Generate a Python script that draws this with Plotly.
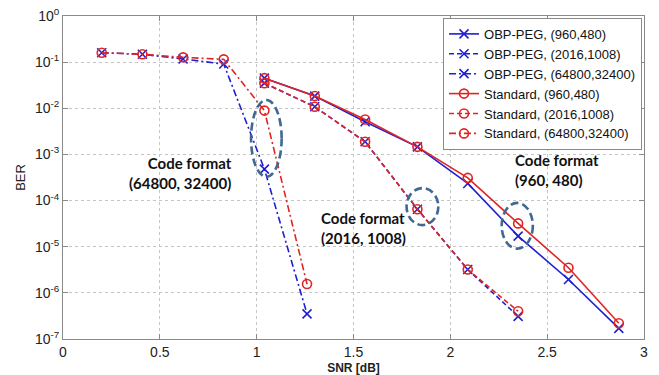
import plotly.graph_objects as go

# ---- data ----
snr_960 = [1.04, 1.30, 1.56, 1.83, 2.09, 2.35, 2.61, 2.87]
obp_960 = [0.045, 0.0184, 0.0051, 0.00146, 2.35e-4, 1.7e-5, 1.95e-6, 1.7e-7]
std_960 = [0.045, 0.0184, 0.0057, 0.00146, 3.1e-4, 3.2e-5, 3.5e-6, 2.2e-7]

snr_2016 = [1.04, 1.30, 1.56, 1.83, 2.09, 2.35]
obp_2016 = [0.035, 0.0108, 0.00188, 6.5e-5, 3.2e-6, 3.1e-7]
std_2016 = [0.035, 0.0108, 0.00188, 6.5e-5, 3.2e-6, 4.0e-7]

snr_64800 = [0.20, 0.41, 0.62, 0.83, 1.04, 1.26]
obp_64800 = [0.16, 0.148, 0.117, 0.091, 4.8e-4, 3.5e-7]
std_64800 = [0.16, 0.148, 0.127, 0.115, 0.0089, 1.55e-6]

x_ticks = [0, 0.5, 1, 1.5, 2, 2.5, 3]
x_ticktext = ["0", "0.5", "1", "1.5", "2", "2.5", "3"]
y_exps = [0, -1, -2, -3, -4, -5, -6, -7]

BLUE = "#1f1fd0"
RED = "#e02424"
DASH = "5px,3px"
DASHDOT = "7px,3px,2px,3px"

series = [
    ("OBP-PEG, (960,480)", snr_960, obp_960, BLUE, "solid", "x-thin-open"),
    ("OBP-PEG, (2016,1008)", snr_2016, obp_2016, BLUE, DASH, "x-thin-open"),
    ("OBP-PEG, (64800,32400)", snr_64800, obp_64800, BLUE, DASHDOT, "x-thin-open"),
    ("Standard, (960,480)", snr_960, std_960, RED, "solid", "circle-open"),
    ("Standard, (2016,1008)", snr_2016, std_2016, RED, DASH, "circle-open"),
    ("Standard, (64800,32400)", snr_64800, std_64800, RED, DASHDOT, "circle-open"),
]

fig = go.Figure()
for name, xs, ys, col, dash, sym in series:
    fig.add_trace(go.Scatter(
        x=xs, y=ys, name=name, mode="lines+markers",
        line=dict(color=col, width=1.6, dash=dash),
        marker=dict(symbol=sym, size=9, color=col, line=dict(color=col, width=1.6)),
    ))

# dashed ellipses (data coordinates)
ell_color = "#3f6893"
ellipses = [
    (0.971, 1.129, 3.27e-4, 0.0151),
    (1.774, 1.938, 2.94e-5, 1.86e-4),
    (2.265, 2.426, 9.1e-6, 8.9e-5),
]
for x0, x1, y0, y1 in ellipses:
    fig.add_shape(type="circle", xref="x", yref="y", x0=x0, x1=x1, y0=y0, y1=y1,
                  line=dict(color=ell_color, width=2.6, dash="8px,4px"))

ann_font = dict(family="Lato, Carlito, sans-serif", size=15, color="#111111")
fig.add_annotation(x=0.609, y=-3.395, xref="x", yref="y",
                   text="<b>Code format<br>(64800, 32400)</b>", showarrow=False,
                   xanchor="center", yanchor="middle", align="right", font=ann_font)
fig.add_annotation(x=1.554, y=-4.6, xref="x", yref="y",
                   text="<b>Code format<br>(2016, 1008)</b>", showarrow=False,
                   xanchor="center", yanchor="middle", align="left", font=ann_font)
fig.add_annotation(x=2.323, y=-3.34, xref="x", yref="y",
                   text="<b>Code format<br>(960, 480)</b>", showarrow=False,
                   xanchor="left", yanchor="middle", align="left", font=ann_font)

axis_common = dict(
    showline=True, linecolor="#8a8a8a", linewidth=1, mirror="ticks",
    ticks="inside", ticklen=5, tickcolor="#8a8a8a",
    showgrid=True, gridcolor="#c4c4c4", griddash="dot", gridwidth=1,
    zeroline=False, automargin=False,
    tickfont=dict(family="Liberation Sans, Arial", size=14, color="#222222"),
)

fig.update_xaxes(range=[0, 3], tickvals=x_ticks, ticktext=x_ticktext,
                 title=dict(text="<b>SNR [dB]</b>", font=dict(family="Liberation Sans, Arial", size=12, color="#222"), standoff=4),
                 **axis_common)
fig.update_yaxes(type="log", range=[-7, 0],
                 tickvals=[10 ** e for e in y_exps],
                 ticktext=["10<sup>%d</sup>" % e for e in y_exps],
                 title=dict(text="BER", font=dict(family="Liberation Sans, Arial", size=13, color="#222"), standoff=6),
                 **axis_common)

fig.update_layout(
    width=659, height=375,
    margin=dict(l=63, r=15, t=16, b=36, autoexpand=False),
    plot_bgcolor="white", paper_bgcolor="white",
    showlegend=True,
    legend=dict(x=0.9966, y=0.994, xanchor="right", yanchor="top",
                bgcolor="white", bordercolor="#8a8a8a", borderwidth=1,
                font=dict(family="Liberation Sans, Arial", size=13, color="#111"),
                tracegroupgap=0, itemwidth=30),
)

fig.write_html("out.html",
               config={"displayModeBar": False},
               post_script="document.body.style.margin='0';document.body.style.overflow='hidden';")
